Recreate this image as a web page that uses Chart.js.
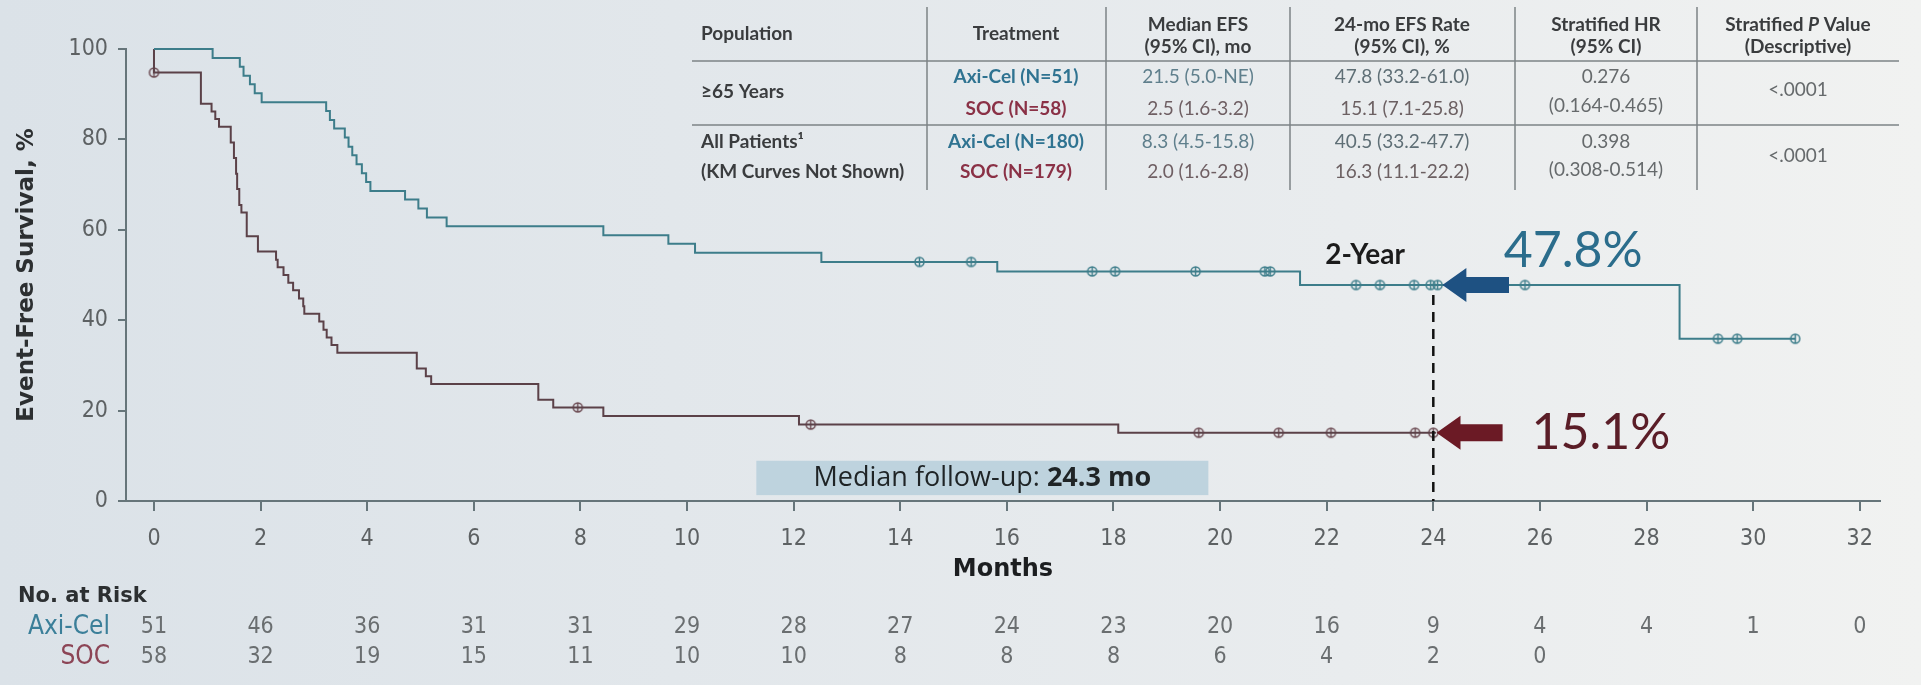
<!DOCTYPE html>
<html>
<head>
<meta charset="utf-8">
<script src="https://cdn.jsdelivr.net/npm/chart.js@4.4.1/dist/chart.umd.min.js"></script>
<style>
  html, body { margin: 0; padding: 0; width: 1921px; height: 685px; overflow: hidden; }
  body { background: linear-gradient(90deg, #dbe2e8 0%, #e2e7eb 35%, #e9ecee 70%, #f1f2f1 100%); }
  canvas { display: block; }
</style>
</head>
<body>
<canvas id="km" width="1921" height="685"></canvas>
<script>
// ---- Kaplan–Meier step data: month of each step and event-free survival (%) from that month on
const axiTimes = [0, 1.10, 1.61, 1.68, 1.80, 1.89, 2.02, 3.23, 3.30, 3.38, 3.58, 3.65, 3.72, 3.80, 3.90, 3.98, 4.06, 4.71, 4.96, 5.12, 5.49, 8.43, 9.65, 10.15, 12.52, 15.82, 21.5, 28.62, 30.79];
const axiSurv  = [100, 98.0, 96.1, 94.1, 92.2, 90.2, 88.2, 86.3, 84.3, 82.4, 80.4, 78.4, 76.5, 74.5, 72.5, 70.6, 68.6, 66.7, 64.7, 62.7, 60.8, 58.8, 56.9, 54.9, 52.9, 50.8, 47.8, 35.9, 35.9];
const socTimes = [0, 0, 0.88, 1.08, 1.15, 1.22, 1.44, 1.50, 1.54, 1.56, 1.60, 1.64, 1.74, 1.95, 2.29, 2.32, 2.43, 2.52, 2.61, 2.72, 2.80, 2.82, 3.10, 3.18, 3.24, 3.33, 3.44, 4.93, 5.10, 5.20, 7.21, 7.49, 8.43, 12.10, 18.09, 24.05];
const socSurv  = [100, 94.8, 87.9, 86.2, 84.5, 82.8, 79.3, 75.9, 72.4, 69.0, 65.5, 63.8, 58.6, 55.2, 53.4, 51.7, 50.0, 48.3, 46.6, 44.8, 43.1, 41.4, 39.7, 37.9, 36.2, 34.5, 32.8, 29.3, 27.6, 25.9, 22.4, 20.7, 18.8, 16.9, 15.1, 15.1];

// censoring times (months)
const axiCensored = [14.36, 15.33, 17.6, 18.03, 19.54, 20.84, 20.94, 22.55, 23.0, 23.64, 23.95, 24.08, 25.72, 29.34, 29.7, 30.79];
const socCensored = [0, 7.95, 12.32, 19.6, 21.1, 22.08, 23.66, 24.0];

// axes
const xTickValues = [0, 2, 4, 6, 8, 10, 12, 14, 16, 18, 20, 22, 24, 26, 28, 30, 32];
const yTickValues = [0, 20, 40, 60, 80, 100];

// numbers at risk, one per x tick
const riskAxi = [51, 46, 36, 31, 31, 29, 28, 27, 24, 23, 20, 16, 9, 4, 4, 1, 0];
const riskSoc = [58, 32, 19, 15, 11, 10, 10, 8, 8, 8, 6, 4, 2, 0];

// 2-year landmark estimates
const landmarkMonth = 24;
const axiAt24 = 47.8;
const socAt24 = 15.1;
const medianFollowUp = '24.3 mo';

// summary table
const tableHead = ['Population', 'Treatment', ['Median EFS', '(95% CI), mo'], ['24-mo EFS Rate', '(95% CI), %'], ['Stratified HR', '(95% CI)'], ['Stratified P Value', '(Descriptive)']];
const popLabels = [['≥65 Years'], ['All Patients¹', '(KM Curves Not Shown)']];
const armLabels = [['Axi-Cel (N=51)', 'SOC (N=58)'], ['Axi-Cel (N=180)', 'SOC (N=179)']];
const medianEfs = [['21.5 (5.0-NE)', '2.5 (1.6-3.2)'], ['8.3 (4.5-15.8)', '2.0 (1.6-2.8)']];
const rate24 = [['47.8 (33.2-61.0)', '15.1 (7.1-25.8)'], ['40.5 (33.2-47.7)', '16.3 (11.1-22.2)']];
const hrText = [['0.276', '(0.164-0.465)'], ['0.398', '(0.308-0.514)']];
const pText = ['<.0001', '<.0001'];

// ---- styling
const AXI = '#3d7d8a';
const SOC = '#5b4148';
const AXI_TXT = '#2f7391';
const SOC_TXT = '#8a3146';
const AXIS = '#66757a';
const UI = 'Lato, "Open Sans", sans-serif';
const WIDE = '"Open Sans", Lato, sans-serif';
const NARROW = '"Liberation Sans Narrow", "DejaVu Sans Condensed", "Roboto Condensed", sans-serif';
const HEAVY = '"DejaVu Sans", Lato, sans-serif';
const TFS = 19; // table font size

function survivalAt(times, surv, t) {
  let v = surv[0];
  for (let i = 0; i < times.length; i++) { if (times[i] <= t) v = surv[i]; }
  return v;
}

function censorMark(color) {
  const c = document.createElement('canvas');
  c.width = 13; c.height = 13;
  const g = c.getContext('2d');
  g.strokeStyle = color; g.lineWidth = 1.5;
  g.beginPath(); g.arc(6.5, 6.5, 4.5, 0, Math.PI * 2); g.stroke();
  g.beginPath(); g.moveTo(6.5, 2); g.lineTo(6.5, 11); g.stroke();
  return c;
}

function arrowLeft(ctx, tipX, tailX, cy, headLen, headHalf, shaftHalf, color) {
  ctx.save();
  ctx.fillStyle = color;
  ctx.beginPath();
  ctx.moveTo(tipX, cy);
  ctx.lineTo(tipX + headLen, cy - headHalf);
  ctx.lineTo(tipX + headLen, cy - shaftHalf);
  ctx.lineTo(tailX, cy - shaftHalf);
  ctx.lineTo(tailX, cy + shaftHalf);
  ctx.lineTo(tipX + headLen, cy + shaftHalf);
  ctx.lineTo(tipX + headLen, cy + headHalf);
  ctx.closePath();
  ctx.fill();
  ctx.restore();
}

function text(ctx, s, x, y, font, color, align) {
  ctx.font = font; ctx.fillStyle = color;
  ctx.textAlign = align || 'center'; ctx.textBaseline = 'middle';
  ctx.fillText(s, x, y);
}

// follow-up box sits behind the curves
const backdrop = {
  id: 'backdrop',
  beforeDatasetsDraw(chart) {
    const { ctx, scales: { x, y } } = chart;
    const x0 = x.getPixelForValue(11.3), x1 = x.getPixelForValue(19.78);
    const y0 = y.getPixelForValue(8.9), y1 = y.getPixelForValue(1.3);
    ctx.save();
    ctx.fillStyle = '#bed3de';
    ctx.fillRect(x0, y0, x1 - x0, y1 - y0);
    const cx = (x0 + x1) / 2, cy = (y0 + y1) / 2;
    const a = 'Median follow-up: ';
    const fa = '27px ' + WIDE, fb = 'bold 27px ' + WIDE;
    ctx.font = fa;
    const wa = ctx.measureText(a).width;
    ctx.font = fb;
    const wb = ctx.measureText(medianFollowUp).width;
    const sx = cx - (wa + wb) / 2;
    text(ctx, a, sx, cy, fa, '#1f2426', 'left');
    text(ctx, medianFollowUp, sx + wa, cy, fb, '#1f2426', 'left');
    ctx.restore();
  }
};

const overlay = {
  id: 'overlay',
  afterDraw(chart) {
    const { ctx, scales: { x, y }, chartArea } = chart;
    ctx.save();

    // 2-year landmark line
    const lx = x.getPixelForValue(landmarkMonth);
    ctx.strokeStyle = '#111'; ctx.lineWidth = 2.5; ctx.setLineDash([10, 7]);
    ctx.beginPath(); ctx.moveTo(lx, y.getPixelForValue(45.6)); ctx.lineTo(lx, y.getPixelForValue(0)); ctx.stroke();
    ctx.setLineDash([]);
    text(ctx, '2-Year', x.getPixelForValue(22.72), y.getPixelForValue(54.5), 'bold 28px ' + UI, '#1b1b1b');

    // landmark arrows and values
    arrowLeft(ctx, x.getPixelForValue(24.17), x.getPixelForValue(25.42), y.getPixelForValue(axiAt24), 24, 17, 8, '#1e5182');
    arrowLeft(ctx, x.getPixelForValue(24.06), x.getPixelForValue(25.3), y.getPixelForValue(socAt24), 24, 17, 8.5, '#6b1a25');
    text(ctx, axiAt24.toFixed(1) + '%', x.getPixelForValue(25.32), y.getPixelForValue(55.4), '50px ' + UI, '#2b6d8c', 'left');
    text(ctx, socAt24.toFixed(1) + '%', x.getPixelForValue(25.84), y.getPixelForValue(15.0), '50px ' + UI, '#5a1d27', 'left');

    // axis titles
    ctx.save();
    ctx.translate(27, (chartArea.top + chartArea.bottom) / 2);
    ctx.rotate(-Math.PI / 2);
    text(ctx, 'Event-Free Survival, %', 0, 0, 'bold 23px ' + HEAVY, '#2c2f31');
    ctx.restore();
    text(ctx, 'Months', (chartArea.left + chartArea.right) / 2, 570, 'bold 24px ' + HEAVY, '#1c1e20');

    // numbers at risk
    text(ctx, 'No. at Risk', 18, 597, 'bold 21px ' + HEAVY, '#2c2f31', 'left');
    text(ctx, 'Axi-Cel', 110, 627, '26px ' + NARROW, '#3b7f99', 'right');
    text(ctx, 'SOC', 110, 657, '26px ' + NARROW, '#8c4556', 'right');
    riskAxi.forEach((n, i) => text(ctx, String(n), x.getPixelForValue(xTickValues[i]), 627, '23px ' + NARROW, '#6a6e70'));
    riskSoc.forEach((n, i) => text(ctx, String(n), x.getPixelForValue(xTickValues[i]), 657, '23px ' + NARROW, '#6a6e70'));

    // summary table
    const colLines = [927, 1106, 1290, 1515, 1697];
    const colCenters = [701, 1016, 1198, 1402, 1606, 1798];
    const HF = 'bold ' + TFS + 'px ' + UI, BF = TFS + 'px ' + UI, IF = 'italic bold ' + TFS + 'px ' + UI;
    ctx.strokeStyle = '#7d8386'; ctx.lineWidth = 1.5;
    colLines.forEach(cx => { ctx.beginPath(); ctx.moveTo(cx, 7); ctx.lineTo(cx, 190); ctx.stroke(); });
    [61, 125].forEach(ly => { ctx.beginPath(); ctx.moveTo(692, ly); ctx.lineTo(1899, ly); ctx.stroke(); });

    const HC = '#3a3c3e';
    text(ctx, tableHead[0], colCenters[0], 34, HF, HC, 'left');
    text(ctx, tableHead[1], colCenters[1], 34, HF, HC);
    for (let c = 2; c <= 4; c++) {
      text(ctx, tableHead[c][0], colCenters[c], 24.5, HF, HC);
      text(ctx, tableHead[c][1], colCenters[c], 47, HF, HC);
    }
    // "Stratified P Value" with italic P
    ctx.font = HF;
    const p1 = 'Stratified ', p3 = ' Value';
    const w1 = ctx.measureText(p1).width, w3 = ctx.measureText(p3).width;
    ctx.font = IF;
    const w2 = ctx.measureText('P').width;
    const sx = colCenters[5] - (w1 + w2 + w3) / 2;
    text(ctx, p1, sx, 24.5, HF, HC, 'left');
    text(ctx, 'P', sx + w1, 24.5, IF, HC, 'left');
    text(ctx, p3, sx + w1 + w2, 24.5, HF, HC, 'left');
    text(ctx, tableHead[5][1], colCenters[5], 47, HF, HC);

    const rowY = [[77, 109], [142, 172]];
    const popY = [[92], [142, 172]];
    const hrY = [[77, 106], [142, 170]];
    const pY = [90, 156];
    for (let r = 0; r < 2; r++) {
      popLabels[r].forEach((s, k) => text(ctx, s, colCenters[0], popY[r][k], HF, HC, 'left'));
      text(ctx, armLabels[r][0], colCenters[1], rowY[r][0], HF, AXI_TXT);
      text(ctx, armLabels[r][1], colCenters[1], rowY[r][1], HF, SOC_TXT);
      text(ctx, medianEfs[r][0], colCenters[2], rowY[r][0], BF, '#5f7f8c');
      text(ctx, medianEfs[r][1], colCenters[2], rowY[r][1], BF, '#6f5f63');
      text(ctx, rate24[r][0], colCenters[3], rowY[r][0], BF, '#5f6f76');
      text(ctx, rate24[r][1], colCenters[3], rowY[r][1], BF, '#6c6062');
      text(ctx, hrText[r][0], colCenters[4], hrY[r][0], BF, '#666a6c');
      text(ctx, hrText[r][1], colCenters[4], hrY[r][1], BF, '#666a6c');
      text(ctx, pText[r], colCenters[5], pY[r], BF, '#666a6c');
    }
    ctx.restore();
  }
};

const ctx = document.getElementById('km').getContext('2d');
new Chart(ctx, {
  type: 'line',
  data: {
    datasets: [
      {
        label: 'Axi-Cel',
        data: axiTimes.map((t, i) => ({ x: t, y: axiSurv[i] })),
        stepped: true, borderColor: AXI, borderWidth: 2, pointRadius: 0, fill: false
      },
      {
        label: 'SOC',
        data: socTimes.map((t, i) => ({ x: t, y: socSurv[i] })),
        stepped: true, borderColor: SOC, borderWidth: 2, pointRadius: 0, fill: false
      },
      {
        label: 'Axi-Cel censored',
        data: axiCensored.map(t => ({ x: t, y: survivalAt(axiTimes, axiSurv, t) })),
        showLine: false, pointStyle: censorMark(AXI), pointRadius: 5
      },
      {
        label: 'SOC censored',
        data: socCensored.map(t => ({ x: t, y: survivalAt(socTimes, socSurv, t) })),
        showLine: false, pointStyle: censorMark('#6b4a52'), pointRadius: 5
      }
    ]
  },
  options: {
    responsive: false,
    animation: false,
    devicePixelRatio: 1,
    clip: false,
    layout: { padding: { left: 0, right: 41, top: 49, bottom: 0 } },
    plugins: { legend: { display: false }, tooltip: { enabled: false } },
    scales: {
      x: {
        type: 'linear', min: -0.525, max: 32.38,
        afterBuildTicks: ax => { ax.ticks = xTickValues.map(v => ({ value: v })); },
        afterFit: ax => { ax.height = 184; },
        grid: { drawOnChartArea: false, drawTicks: true, tickLength: 10, color: AXIS, lineWidth: 2 },
        border: { color: AXIS, width: 2 },
        ticks: { padding: 14, autoSkip: false, maxRotation: 0, color: '#5d6163', font: { family: NARROW, size: 23 } }
      },
      y: {
        min: 0, max: 100,
        afterBuildTicks: ax => { ax.ticks = yTickValues.map(v => ({ value: v })); },
        afterFit: ax => { ax.width = 126; },
        grid: { drawOnChartArea: false, drawTicks: true, tickLength: 8, color: AXIS, lineWidth: 2 },
        border: { color: AXIS, width: 2 },
        ticks: { padding: 10, color: '#5d6163', font: { family: NARROW, size: 23 } }
      }
    }
  },
  plugins: [backdrop, overlay]
});
</script>
</body>
</html>
